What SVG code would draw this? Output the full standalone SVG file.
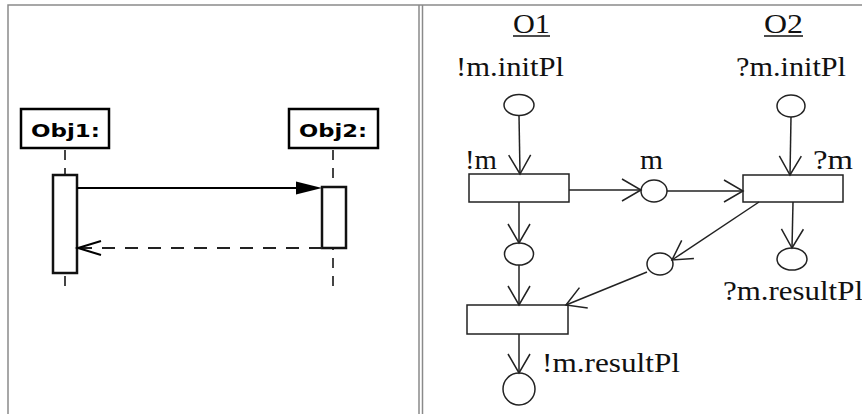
<svg xmlns="http://www.w3.org/2000/svg" width="862" height="414" viewBox="0 0 862 414">
<style>
.frame{stroke:#8a8a8a;stroke-width:1.5;fill:none}
.objbox{fill:#fff;stroke:#000;stroke-width:2.5}
.act{fill:#fff;stroke:#111;stroke-width:2.5}
.life{stroke:#444;stroke-width:2;stroke-dasharray:10 8;fill:none}
.objtxt{font-family:"DejaVu Sans",sans-serif;font-weight:bold;font-size:18px;fill:#000}
.pn{fill:#fff;stroke:#222;stroke-width:1.5}
.lbl{font-family:"Liberation Serif","Times New Roman",serif;font-size:27px;fill:#111}
.arc{stroke:#222;stroke-width:1.5;fill:none;marker-end:url(#v)}
</style>
<defs>
<marker id="v" markerUnits="userSpaceOnUse" viewBox="0 0 22 24" markerWidth="22" markerHeight="24" refX="20" refY="12" orient="auto" overflow="visible">
<path d="M1,1 L20,12 L1,23" fill="none" stroke="#222" stroke-width="1.5"/>
</marker>
</defs>
<rect width="862" height="414" fill="#fff"/>
<g id="frame">
<path class="frame" d="M8,414 V5 H862"/>
<path class="frame" d="M419,5 V414 M422.5,5 V414"/>
</g>
<!-- Sequence diagram -->
<g id="obj1">
<line class="life" x1="65" y1="150" x2="65" y2="292"/>
<rect class="objbox" x="21" y="109" width="88" height="39"/>
<text class="objtxt" x="31" y="137" textLength="69" lengthAdjust="spacingAndGlyphs">Obj1:</text>
<rect class="act" x="53" y="175" width="24" height="98"/>
</g>
<g id="obj2">
<line class="life" x1="333" y1="150" x2="333" y2="292"/>
<rect class="objbox" x="289" y="109" width="89" height="39"/>
<text class="objtxt" x="299" y="137" textLength="68" lengthAdjust="spacingAndGlyphs">Obj2:</text>
<rect class="act" x="322" y="187" width="24" height="61"/>
</g>
<g id="messages">
<line x1="77" y1="188" x2="298" y2="188" stroke="#000" stroke-width="2"/>
<polygon points="322,188 296,181.5 296,194.5" fill="#000"/>
<line x1="322" y1="248" x2="80" y2="248" stroke="#222" stroke-width="2" stroke-dasharray="13 10"/>
<polyline points="101,241 78,248 101,255" fill="none" stroke="#000" stroke-width="2"/>
</g>
<!-- Petri net -->
<g id="O1-header">
<text class="lbl" x="513" y="33" textLength="37" lengthAdjust="spacingAndGlyphs">O1</text>
<line x1="513" y1="36" x2="550" y2="36" stroke="#111" stroke-width="1.5"/>
</g>
<g id="O2-header">
<text class="lbl" x="764" y="33" textLength="39" lengthAdjust="spacingAndGlyphs">O2</text>
<line x1="764" y1="36" x2="803" y2="36" stroke="#111" stroke-width="1.5"/>
</g>
<g id="p-m-initPl">
<text class="lbl" x="456" y="76" textLength="108" lengthAdjust="spacingAndGlyphs">!m.initPl</text>
<ellipse class="pn" cx="519" cy="105" rx="15" ry="10.5"/>
</g>
<g id="p-q-initPl">
<text class="lbl" x="736" y="76" textLength="110" lengthAdjust="spacingAndGlyphs">?m.initPl</text>
<ellipse class="pn" cx="791" cy="106" rx="14" ry="11"/>
</g>
<g id="t-send">
<text class="lbl" x="465" y="169" textLength="32" lengthAdjust="spacingAndGlyphs">!m</text>
<rect class="pn" x="469" y="174" width="100" height="28"/>
</g>
<g id="p-m">
<text class="lbl" x="640" y="169" textLength="23" lengthAdjust="spacingAndGlyphs">m</text>
<ellipse class="pn" cx="654" cy="191" rx="13" ry="11"/>
</g>
<g id="t-receive">
<text class="lbl" x="813" y="169" textLength="40" lengthAdjust="spacingAndGlyphs">?m</text>
<rect class="pn" x="743" y="175" width="100" height="27"/>
</g>
<g id="p-left-mid">
<ellipse class="pn" cx="519" cy="254" rx="14.5" ry="11"/>
</g>
<g id="p-reply">
<ellipse class="pn" cx="660" cy="264" rx="13" ry="11"/>
</g>
<g id="p-q-resultPl">
<ellipse class="pn" cx="792" cy="259" rx="15" ry="11"/>
<text class="lbl" x="723" y="300" textLength="140" lengthAdjust="spacingAndGlyphs">?m.resultPl</text>
</g>
<g id="t-result">
<rect class="pn" x="467" y="305" width="101" height="29"/>
</g>
<g id="p-m-resultPl">
<text class="lbl" x="542" y="372" textLength="138" lengthAdjust="spacingAndGlyphs">!m.resultPl</text>
<ellipse class="pn" cx="519" cy="389" rx="16" ry="16"/>
</g>
<g id="connectors">
<line class="arc" x1="519" y1="115.5" x2="520" y2="174"/>
<line class="arc" x1="569" y1="190" x2="641" y2="190"/>
<line class="arc" x1="667" y1="191" x2="743" y2="191"/>
<line class="arc" x1="791" y1="117" x2="790" y2="175"/>
<line class="arc" x1="793" y1="202" x2="792" y2="248"/>
<line class="arc" x1="519" y1="202" x2="519" y2="243"/>
<line class="arc" x1="519" y1="265" x2="519" y2="305"/>
<line class="arc" x1="759" y1="202" x2="672" y2="260"/>
<line class="arc" x1="647" y1="272" x2="566" y2="305"/>
<line class="arc" x1="519" y1="334" x2="519" y2="373"/>
</g>
</svg>
